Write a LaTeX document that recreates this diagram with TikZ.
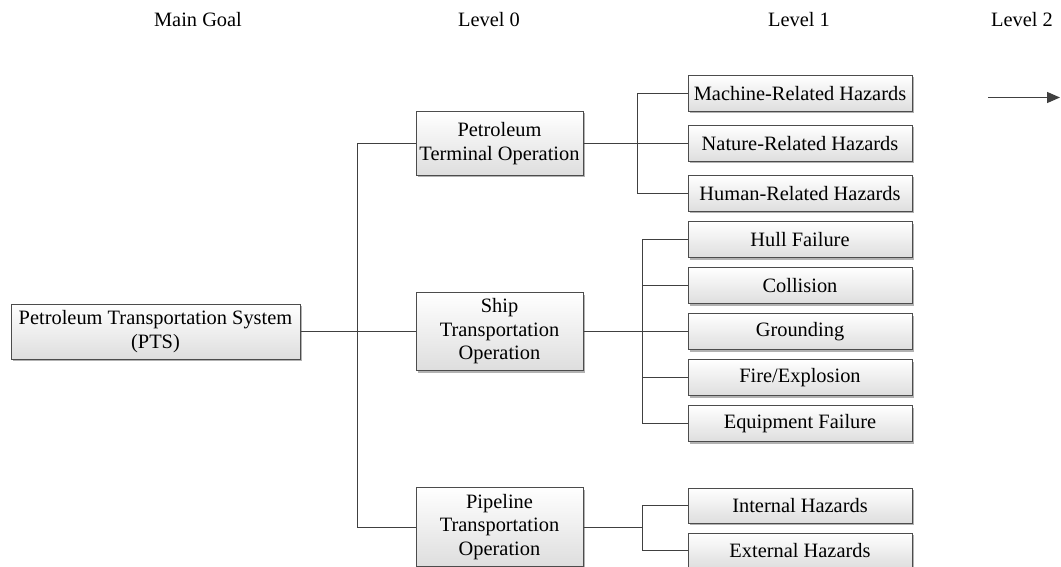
\documentclass[tikz,border=0pt]{standalone}
\usepackage{fontspec}
\setmainfont{Liberation Serif}
\usetikzlibrary{shadows,arrows.meta}
\begin{document}
\begin{tikzpicture}[x=1pt,y=-1pt,
  font=\fontsize{20.4}{23.5}\selectfont,
  box/.style={draw=black!70, line width=1pt, top color=white, bottom color=black!13,
    drop shadow={shadow xshift=2pt, shadow yshift=-2pt, fill=black!30, opacity=1},
    align=center, inner sep=0pt, text=black},
  lvl0/.style={box, minimum width=167pt},
  lvl1/.style={box, minimum width=224pt, minimum height=36pt},
  hdr/.style={inner sep=0pt, text=black},
  conn/.style={draw=black!75, line width=1pt}]
\useasboundingbox (0,0) rectangle (1061,567);
% headers
\node[hdr] (h0) at (198,20) {Main Goal};
\node[hdr] (h1) at (489,20) {Level 0};
\node[hdr] (h2) at (799,20) {Level 1};
\node[hdr] (h3) at (1022,20) {Level 2};
\coordinate (a1) at (988,97.5);
\coordinate (a2) at (1060,97.5);
\draw[conn, line width=1.3pt, -{Triangle[length=13pt,width=11pt]}] (a1) -- (a2);
% main goal
\node[box, minimum width=289pt, minimum height=55pt] (pts) at (155.5,331.5) {Petroleum Transportation System\\(PTS)};
% level 0
\node[lvl0, minimum height=64pt] (term) at (499.5,143.5) {Petroleum\\Terminal Operation};
\node[lvl0, minimum height=78pt] (ship) at (499.5,331.5) {Ship\\Transportation\\Operation};
\node[lvl0, minimum height=79pt] (pipe) at (499.5,527) {Pipeline\\Transportation\\Operation};
% level 1
\node[lvl1] (mach) at (800,93.5) {Machine-Related Hazards};
\node[lvl1] (nat) at (800,143.5) {Nature-Related Hazards};
\node[lvl1] (hum) at (800,193.5) {Human-Related Hazards};
\node[lvl1] (hull) at (800,239.5) {Hull Failure};
\node[lvl1] (coll) at (800,285.5) {Collision};
\node[lvl1] (grd) at (800,331.5) {Grounding};
\node[lvl1] (fire) at (800,377.5) {Fire/Explosion};
\node[lvl1] (eqp) at (800,423.5) {Equipment Failure};
\node[lvl1, minimum height=35pt] (int) at (800,505.5) {Internal Hazards};
\node[lvl1, minimum height=35pt] (ext) at (800,550.5) {External Hazards};
% connectors
\coordinate (b0) at (357.5,331.5);
\coordinate (bt) at (637.5,143.5);
\coordinate (bs) at (642.5,331.5);
\coordinate (bp) at (642.5,527);
\draw[conn] (pts.east) -- (b0) -- (ship.west);
\draw[conn] (term.west) -| (b0) |- (pipe.west);
\draw[conn] (term.east) -- (nat.west);
\draw[conn] (mach.west) -| (bt) |- (hum.west);
\draw[conn] (ship.east) -- (grd.west);
\draw[conn] (hull.west) -| (bs) |- (eqp.west);
\draw[conn] (bs |- coll.west) -- (coll.west);
\draw[conn] (bs |- fire.west) -- (fire.west);
\draw[conn] (pipe.east) -- (bp);
\draw[conn] (int.west) -| (bp) |- (ext.west);
\end{tikzpicture}
\end{document}
